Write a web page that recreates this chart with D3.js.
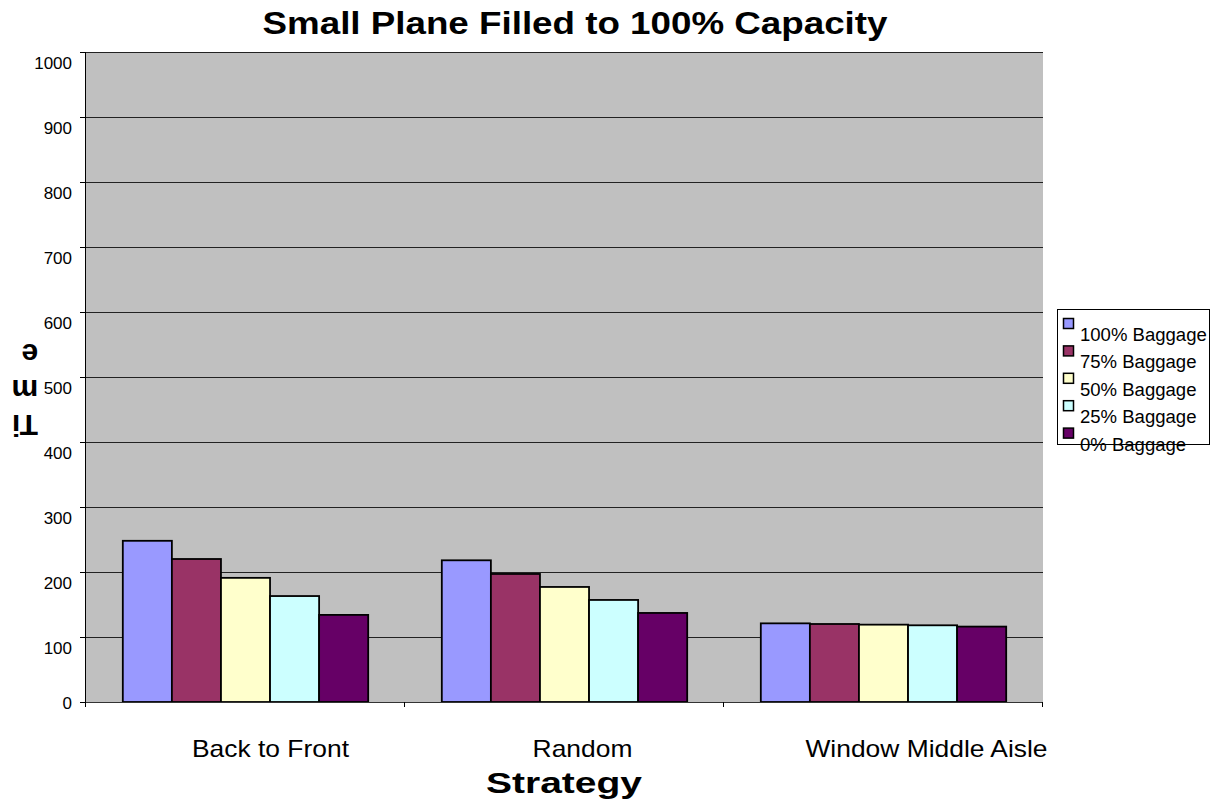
<!DOCTYPE html>
<html>
<head>
<meta charset="utf-8">
<script src="https://cdn.jsdelivr.net/npm/d3@7"></script>
<style>
  html, body { margin: 0; padding: 0; background: #fff; }
  svg { display: block; font-family: "Liberation Sans", Arial, sans-serif; }
</style>
</head>
<body>
<svg id="chart" width="1212" height="810"></svg>
<script>
// Boarding time by strategy, one series per baggage level
const categories = ["Back to Front", "Random", "Window Middle Aisle"];
const seriesNames = ["100% Baggage", "75% Baggage", "50% Baggage", "25% Baggage", "0% Baggage"];
const baggage100 = [248, 218, 121];
const baggage75  = [220, 197, 120];
const baggage50  = [191, 177, 119];
const baggage25  = [163, 157, 118];
const baggage0   = [134, 137, 116];
const yTicks = [0, 100, 200, 300, 400, 500, 600, 700, 800, 900, 1000];
const seriesColors = ["#9999FF", "#993366", "#FFFFCC", "#CCFFFF", "#660066"];

const seriesValues = [baggage100, baggage75, baggage50, baggage25, baggage0];
const rows = categories.map((c, i) => ({
  category: c,
  values: seriesNames.map((s, j) => ({ series: s, value: seriesValues[j][i], color: seriesColors[j] }))
}));

const svg = d3.select("#chart");
const plot = { left: 86, right: 1043, top: 52, bottom: 702 };

const x0 = d3.scaleBand().domain(categories).range([plot.left, plot.right]).padding(0);
const x1 = d3.scaleBand().domain(seriesNames).range([0, x0.bandwidth()])
  .paddingInner(0).paddingOuter(0.75);
const y = d3.scaleLinear().domain([0, 1000]).range([plot.bottom, plot.top]);

// stretch a text element horizontally to a given factor of its natural width
function stretch(sel, factor) {
  sel.each(function () {
    const w = this.getComputedTextLength();
    d3.select(this).attr("textLength", w * factor).attr("lengthAdjust", "spacingAndGlyphs");
  });
}

// plot background
svg.append("rect")
  .attr("x", plot.left).attr("y", plot.top)
  .attr("width", plot.right - plot.left).attr("height", plot.bottom - plot.top)
  .attr("fill", "#C0C0C0");

// horizontal gridlines
svg.append("g").selectAll("line").data(yTicks.filter(v => v > 0)).join("line")
  .attr("x1", plot.left).attr("x2", plot.right)
  .attr("y1", d => Math.round(y(d)) + 0.5).attr("y2", d => Math.round(y(d)) + 0.5)
  .attr("stroke", "#222").attr("stroke-width", 1.2);

// bars
const groups = svg.append("g").selectAll("g").data(rows).join("g")
  .attr("transform", d => `translate(${x0(d.category)},0)`);
groups.selectAll("rect").data(d => d.values).join("rect")
  .attr("x", d => x1(d.series))
  .attr("y", d => y(d.value))
  .attr("width", x1.bandwidth())
  .attr("height", d => y(0) - y(d.value))
  .attr("fill", d => d.color)
  .attr("stroke", "#000").attr("stroke-width", 1.8);

// y axis line and ticks
svg.append("line")
  .attr("x1", plot.left - 0.5).attr("x2", plot.left - 0.5)
  .attr("y1", plot.top).attr("y2", plot.bottom + 5)
  .attr("stroke", "#000").attr("stroke-width", 1);
svg.append("g").selectAll("line").data(yTicks).join("line")
  .attr("x1", plot.left - 6).attr("x2", plot.left)
  .attr("y1", d => Math.round(y(d)) + 0.5).attr("y2", d => Math.round(y(d)) + 0.5)
  .attr("stroke", "#000").attr("stroke-width", 1);
svg.append("g").selectAll("text").data(yTicks).join("text")
  .attr("x", 72)
  .attr("y", d => Math.min(y(d) + 11, y(0) + 1))
  .attr("dy", "0.35em")
  .attr("text-anchor", "end")
  .attr("font-size", 17)
  .attr("fill", "#000")
  .text(d => d);

// x axis line and category boundary ticks
svg.append("line")
  .attr("x1", plot.left).attr("x2", plot.right)
  .attr("y1", plot.bottom + 0.5).attr("y2", plot.bottom + 0.5)
  .attr("stroke", "#333").attr("stroke-width", 1);
const bounds = categories.map(c => x0(c)).concat([plot.right]);
svg.append("g").selectAll("line").data(bounds).join("line")
  .attr("x1", d => Math.round(d) - 0.5).attr("x2", d => Math.round(d) - 0.5)
  .attr("y1", plot.bottom).attr("y2", plot.bottom + 5)
  .attr("stroke", "#000").attr("stroke-width", 1);

// category labels
const catShift = [25, 18, 43];
svg.append("g").selectAll("text").data(categories).join("text")
  .attr("x", (d, i) => x0(d) + x0.bandwidth() / 2 + catShift[i])
  .attr("y", 757)
  .attr("text-anchor", "middle")
  .attr("font-size", 24)
  .attr("fill", "#000")
  .text(d => d)
  .call(stretch, 1.1);

// axis titles
svg.append("text")
  .attr("x", 564).attr("y", 793)
  .attr("text-anchor", "middle")
  .attr("font-size", 29).attr("font-weight", "bold")
  .attr("textLength", 156).attr("lengthAdjust", "spacingAndGlyphs")
  .text("Strategy");

const yTitle = [
  { t: "Ti", x: 25, y: 415 },
  { t: "m",  x: 25, y: 380 },
  { t: "e",  x: 30, y: 344 }
];
svg.append("g").selectAll("text").data(yTitle).join("text")
  .attr("transform", d => `translate(${d.x},${d.y}) rotate(180)`)
  .attr("text-anchor", "middle")
  .attr("font-size", 30).attr("font-weight", "bold")
  .text(d => d.t);

// chart title
svg.append("text")
  .attr("x", 575).attr("y", 34)
  .attr("text-anchor", "middle")
  .attr("font-size", 31).attr("font-weight", "bold")
  .attr("textLength", 625).attr("lengthAdjust", "spacingAndGlyphs")
  .text("Small Plane Filled to 100% Capacity");

// legend
const legend = svg.append("g");
legend.append("rect")
  .attr("x", 1057.5).attr("y", 309.5).attr("width", 152).attr("height", 135)
  .attr("fill", "#fff").attr("stroke", "#000").attr("stroke-width", 1);
const items = legend.selectAll("g.item").data(seriesNames).join("g")
  .attr("class", "item")
  .attr("transform", (d, i) => `translate(0,${318 + i * 27.4})`);
items.append("rect")
  .attr("x", 1063.5).attr("y", 0.5).attr("width", 10).attr("height", 10)
  .attr("fill", (d, i) => seriesColors[i])
  .attr("stroke", "#000").attr("stroke-width", 1.5);
items.append("text")
  .attr("x", 1080).attr("y", 23)
  .attr("font-size", 18)
  .attr("fill", "#000")
  .text(d => d)
  .call(stretch, 1.03);
</script>
</body>
</html>
